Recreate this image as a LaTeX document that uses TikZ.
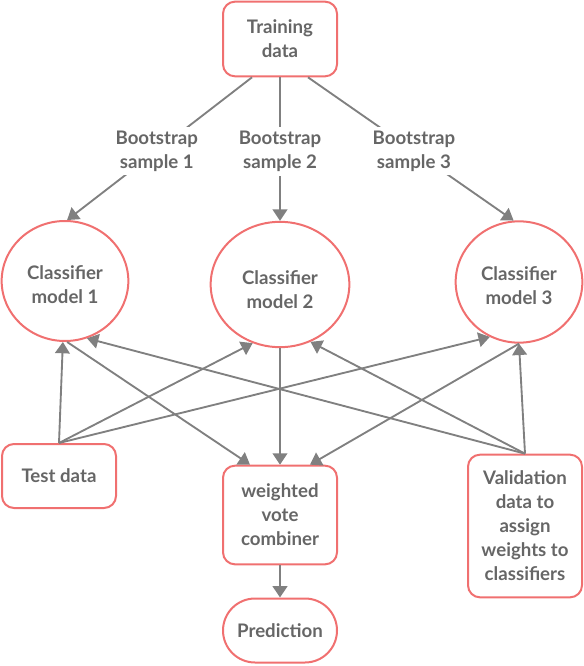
\documentclass[tikz,border=0pt]{standalone}
\usepackage{fontspec}
\setmainfont{Lato}
\usetikzlibrary{arrows.meta,shapes.geometric}
\definecolor{boxred}{RGB}{240,112,112}
\definecolor{linegrey}{RGB}{128,128,128}
\definecolor{textgrey}{RGB}{102,102,102}
\tikzset{every picture/.style={line width=0.75pt}}
\tikzset{
	box/.style={draw=boxred, line width=1.5pt, rounded corners=9pt, align=center, text=textgrey,
		minimum width=85.5pt, font=\fontsize{14}{18}\selectfont\bfseries},
	model/.style={ellipse, draw=boxred, line width=1.5pt, inner sep=0pt},
	modeltext/.style={align=center, text=textgrey, inner sep=0pt, font=\fontsize{14}{18}\selectfont\bfseries},
	bootlabel/.style={fill=white, align=center, text=textgrey, inner sep=3pt, pos=0.515,
		font=\fontsize{14}{18}\selectfont\bfseries},
	conn/.style={draw=linegrey, line width=1.4pt, -{Triangle[width=11pt,length=8.5pt]}}
}

\begin{document}
\begin{tikzpicture}[x=0.75pt,y=0.75pt,yscale=-1,xscale=1]
	\useasboundingbox (0,0) rectangle (584,666);

	% Training data
	\draw (280,39) node [box, minimum height=56pt] (train) {Training\\data};
	% Classifier models
	\draw (65,281) node [model, minimum width=95pt, minimum height=90pt,
		label={[modeltext, yshift=-2.7pt]center:{Classifier\\model 1}}] (cm1) {};
	\draw (280,284.5) node [model, minimum width=104pt, minimum height=94pt,
		label={[modeltext, yshift=-4pt]center:{Classifier\\model 2}}] (cm2) {};
	\draw (519,282) node [model, minimum width=95pt, minimum height=91pt,
		label={[modeltext, yshift=-2.7pt]center:{Classifier\\model 3}}] (cm3) {};
	% Test data
	\draw (59,476) node [box, minimum height=48pt] (test) {Test data};
	% weighted vote combiner
	\draw (280,515) node [box, minimum height=74pt] (vote) {weighted\\vote\\combiner};
	% Prediction
	\draw (280,630.5) node [box, minimum height=48pt, rounded corners=24pt] (pred) {Prediction};
	% Validation data
	\draw (525,526) node [box, minimum height=107pt] (valid) {Validation\\data to\\assign\\weights to\\classifiers};

	% Bootstrap samples
	\draw [conn] ([xshift=-21pt]train.south) -- node [bootlabel] {Bootstrap\\sample 1} (cm1.88);
	\draw [conn] (train.south) -- node [bootlabel] {Bootstrap\\sample 2} (cm2.north);
	\draw [conn] ([xshift=21pt]train.south) -- node [bootlabel] {Bootstrap\\sample 3} (cm3.95);

	% Test data to models
	\draw [conn] (test.north) -- (cm1.-92);
	\draw [conn] (test.north) -- (cm2.-115);
	\draw [conn] (test.north) -- (cm3.-118);
	% Validation data to models
	\draw [conn] (valid.north) -- (cm1.-69);
	\draw [conn] (valid.north) -- (cm2.-62);
	\draw [conn] (valid.north) -- (cm3.south);
	% Models to combiner
	\draw [conn] (cm1.-88) -- ([xshift=-22.5pt]vote.north);
	\draw [conn] (cm2.south) -- (vote.north);
	\draw [conn] (cm3.south) -- ([xshift=22.5pt]vote.north);
	% Combiner to prediction
	\draw [conn] (vote.south) -- (pred.north);

\end{tikzpicture}
\end{document}
